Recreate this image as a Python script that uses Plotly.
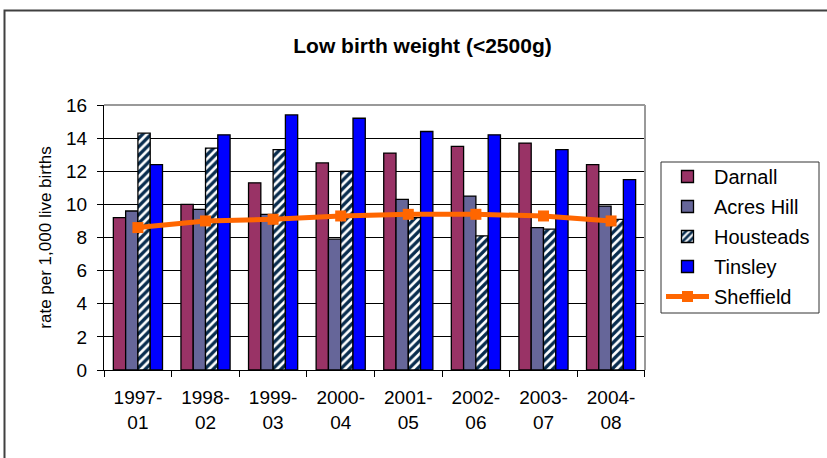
import plotly.graph_objects as go

categories = ["1997-<br>01", "1998-<br>02", "1999-<br>03", "2000-<br>04",
              "2001-<br>05", "2002-<br>06", "2003-<br>07", "2004-<br>08"]
darnall = [9.2, 10.0, 11.3, 12.5, 13.1, 13.5, 13.7, 12.4]
acres_hill = [9.6, 9.7, 9.4, 7.9, 10.3, 10.5, 8.6, 9.9]
housteads = [14.3, 13.4, 13.3, 12.0, 9.2, 8.1, 8.5, 9.1]
tinsley = [12.4, 14.2, 15.4, 15.2, 14.4, 14.2, 13.3, 11.5]
sheffield = [8.6, 9.0, 9.1, 9.3, 9.4, 9.4, 9.3, 9.0]

FONT = "Liberation Sans, Arial, sans-serif"
W, H = 827, 458
# plot area in page pixels
PL, PR, PT, PB = 104, 645, 105, 370


def px_x(p):
    return (p - PL) / (PR - PL)


def px_y(p):
    return (PB - p) / (PB - PT)


outline = dict(color="black", width=1.3)
fig = go.Figure()
fig.add_trace(go.Bar(name="Darnall", x=categories, y=darnall,
                     marker=dict(color="#993366", line=outline), legendgroup="a"))
fig.add_trace(go.Bar(name="Acres Hill", x=categories, y=acres_hill,
                     marker=dict(color="#666699", line=outline), legendgroup="b"))
fig.add_trace(go.Bar(name="Housteads", x=categories, y=housteads,
                     marker=dict(color="white", line=outline,
                                 pattern=dict(shape="/", fgcolor="#082C4E", bgcolor="white",
                                              size=6, solidity=0.55, fillmode="replace")),
                     legendgroup="c"))
fig.add_trace(go.Bar(name="Tinsley", x=categories, y=tinsley,
                     marker=dict(color="#0000FF", line=outline), legendgroup="d"))
fig.add_trace(go.Scatter(name="Sheffield", x=categories, y=sheffield, mode="lines+markers",
                         line=dict(color="#FF6600", width=5),
                         marker=dict(symbol="square", size=11, color="#FF6600"),
                         legendgroup="e"))

fig.update_layout(
    width=W, height=H,
    margin=dict(l=PL, r=W - PR, t=PT, b=H - PB, pad=0),
    paper_bgcolor="white", plot_bgcolor="white",
    font=dict(family=FONT, size=19, color="black"),
    barmode="group", bargap=0.273, bargroupgap=0,
    title=dict(text="<b>Low birth weight (<2500g)</b>", xref="container", yref="container",
               x=422.5 / W, y=1 - 46 / H, xanchor="center", yanchor="middle",
               font=dict(family=FONT, size=21, color="black")),
    legend=dict(x=px_x(661), y=px_y(157), xanchor="left", yanchor="top",
                bgcolor="rgba(0,0,0,0)", borderwidth=0,
                font=dict(family=FONT, size=20, color="black"),
                itemwidth=43, tracegroupgap=1, traceorder="grouped"),
    showlegend=True,
)
fig.update_xaxes(showline=True, linecolor="black", linewidth=1,
                 ticks="outside", ticklen=6, tickcolor="black", tickson="boundaries",
                 ticklabelstandoff=10, showgrid=False,
                 tickfont=dict(family=FONT, size=19))
fig.update_yaxes(range=[0, 16], dtick=2, showline=True, linecolor="black", linewidth=1,
                 ticks="outside", ticklen=6, tickcolor="black",
                 showgrid=True, gridcolor="black", gridwidth=1, zeroline=False,
                 ticklabelstandoff=6,
                 tickfont=dict(family=FONT, size=19),
                 title=dict(text="rate per 1,000 live births", standoff=10,
                            font=dict(family=FONT, size=17)))
# outer chart border
fig.add_shape(type="rect", xref="paper", yref="paper",
              x0=px_x(4.5), x1=px_x(840), y0=px_y(10.5), y1=px_y(470),
              line=dict(color="#404040", width=2), layer="below")
# legend box
fig.add_shape(type="rect", xref="paper", yref="paper",
              x0=px_x(661), x1=px_x(819), y0=px_y(162), y1=px_y(313),
              line=dict(color="#333333", width=1), fillcolor="white", layer="below")
# plot-area border (top and right) in gray
fig.add_shape(type="line", xref="paper", yref="paper", x0=0, x1=1, y0=1, y1=1,
              line=dict(color="#999999", width=2), layer="above")
fig.add_shape(type="line", xref="paper", yref="paper", x0=1, x1=1, y0=0, y1=1,
              line=dict(color="#999999", width=2), layer="above")

fig.write_html("out.html", config={"displayModeBar": False},
               post_script="document.body.style.margin='0';document.body.style.overflow='hidden';")
